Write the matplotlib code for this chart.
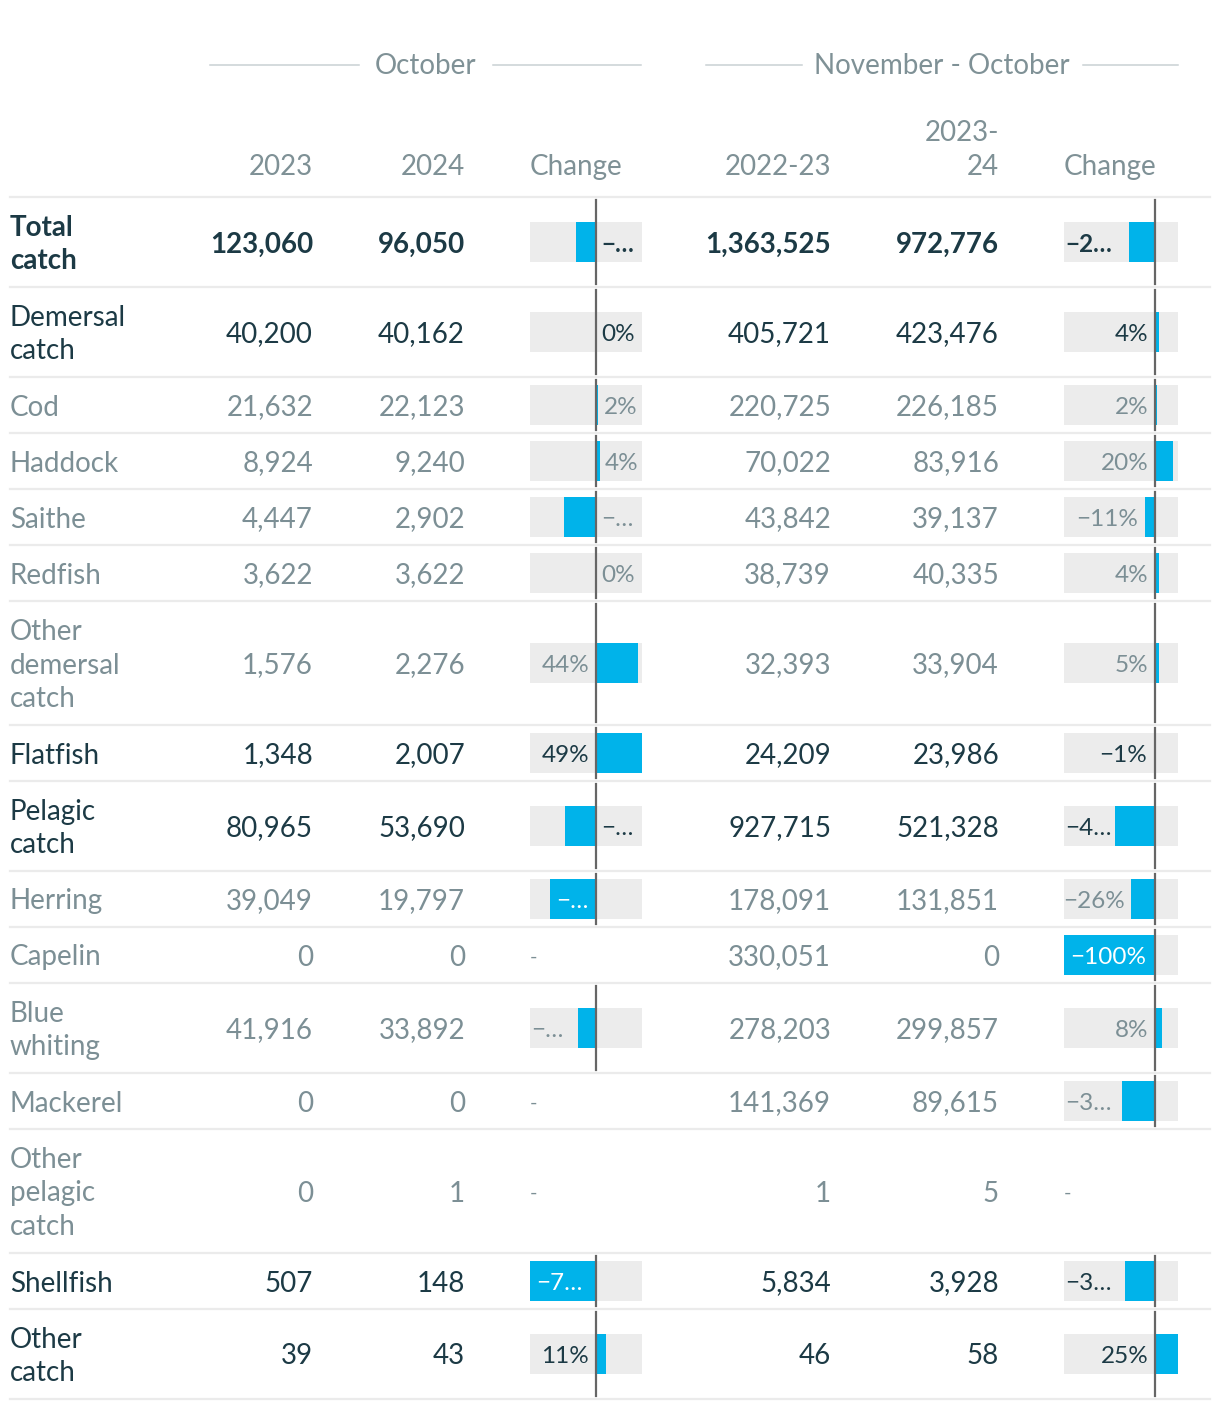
import matplotlib
matplotlib.use("Agg")
import matplotlib.pyplot as plt

# ---- data ----
rows = ["Total\ncatch", "Demersal\ncatch", "Cod", "Haddock", "Saithe", "Redfish",
        "Other\ndemersal\ncatch", "Flatfish", "Pelagic\ncatch", "Herring", "Capelin",
        "Blue\nwhiting", "Mackerel", "Other\npelagic\ncatch", "Shellfish", "Other\ncatch"]
row_kind = ["total", "main", "sub", "sub", "sub", "sub", "sub", "main", "main",
            "sub", "sub", "sub", "sub", "sub", "main", "main"]

oct_2023 = [123060, 40200, 21632, 8924, 4447, 3622, 1576, 1348, 80965, 39049, 0, 41916, 0, 0, 507, 39]
oct_2024 = [96050, 40162, 22123, 9240, 2902, 3622, 2276, 2007, 53690, 19797, 0, 33892, 0, 1, 148, 43]
oct_change = [-21.9, -0.1, 2.3, 3.5, -34.7, 0.0, 44.4, 48.9, -33.7, -49.3, None, -19.1, None, None, -70.8, 10.6]
oct_labels = ["−…", "0%", "2%", "4%", "−…", "0%", "44%", "49%", "−…", "−…", "-", "−…", "-", "-", "−7…", "11%"]

nov_2223 = [1363525, 405721, 220725, 70022, 43842, 38739, 32393, 24209, 927715, 178091, 330051, 278203, 141369, 1, 5834, 46]
nov_2324 = [972776, 423476, 226185, 83916, 39137, 40335, 33904, 23986, 521328, 131851, 0, 299857, 89615, 5, 3928, 58]
nov_change = [-28.7, 4.4, 2.5, 19.8, -10.7, 4.1, 4.7, -0.9, -43.8, -26.0, -100.0, 7.8, -36.6, None, -32.7, 25.0]
nov_labels = ["−2…", "4%", "2%", "20%", "−11%", "4%", "5%", "−1%", "−4…", "−26%", "−100%", "8%", "−3…", "-", "−3…", "25%"]

# label placement: r = right of zero/bar, l = left of bar, s = cell start, i = inside bar
oct_pos = ['r', 'r', 'r', 'r', 'r', 'r', 'l', 'l', 'r', 'i', 'n', 's', 'n', 'n', 'i', 'l']
nov_pos = ['s', 'l', 'l', 'l', 'l', 'l', 'l', 'l', 's', 'l', 'i', 'l', 's', 'n', 's', 'l']

# ---- style ----
DARK = '#1c3a45'
GREY = '#7c8f95'
HEAD = '#7f9196'
BAR = '#00b3ea'
CELL = '#ececec'
RULE = '#ebebeb'
FAM = ['Lato', 'DejaVu Sans']
FS = 20
FS_SMALL = 17.5
DY = 2.5   # nudge text down to sit like the reference

plt.rcParams['font.family'] = FAM

fig = plt.figure(figsize=(12.2, 14.1), dpi=100)
ax = fig.add_axes([0, 0, 1, 1])
ax.set_xlim(0, 1220)
ax.set_ylim(1410, 0)
ax.axis('off')

# group headers
for label, cx, l0, l1, r0, r1 in [("October", 426, 210, 359, 493, 641),
                                  ("November - October", 942, 706, 802, 1083, 1178)]:
    ax.text(cx, 64 + DY, label, ha='center', va='center', fontsize=FS, color=HEAD)
    ax.plot([l0, l1], [65, 65], color='#c9d1d3', lw=1.1)
    ax.plot([r0, r1], [65, 65], color='#c9d1d3', lw=1.1)

# column headers
hb = 175
ax.text(313, hb, "2023", ha='right', va='baseline', fontsize=FS, color=HEAD)
ax.text(465, hb, "2024", ha='right', va='baseline', fontsize=FS, color=HEAD)
ax.text(530, hb, "Change", ha='left', va='baseline', fontsize=FS, color=HEAD)
ax.text(831, hb, "2022-23", ha='right', va='baseline', fontsize=FS, color=HEAD)
ax.text(999, hb, "2023-\n24", ha='right', va='baseline', fontsize=FS, color=HEAD, linespacing=1.36)
ax.text(1064, hb, "Change", ha='left', va='baseline', fontsize=FS, color=HEAD)

top = 197
ax.plot([10, 1210], [top, top], color=RULE, lw=1.6)

cells = [(530, 642, oct_change, oct_labels, oct_pos),
         (1064, 1178, nov_change, nov_labels, nov_pos)]
scales = []
for x0, x1, ch, _, _ in cells:
    vals = [v for v in ch if v is not None]
    lo, hi = min(vals), max(vals)
    k = (x1 - x0) / (hi - lo)
    scales.append((k, x0 - lo * k))

y = top
for i, name in enumerate(rows):
    nl = name.count("\n") + 1
    h = 22 + 34 * nl
    cy = y + h / 2
    kind = row_kind[i]
    col = GREY if kind == 'sub' else DARK
    wt = 'bold' if kind == 'total' else 'normal'

    ax.text(10, cy + DY, name, ha='left', va='center', fontsize=FS, color=col,
            fontweight=wt, linespacing=1.36)
    for xr, v in zip([313, 465, 831, 999], [oct_2023[i], oct_2024[i], nov_2223[i], nov_2324[i]]):
        ax.text(xr, cy + DY, f"{v:,}", ha='right', va='center', fontsize=FS, color=col, fontweight=wt)

    for (x0, x1, ch, labs, pos), (k, zero) in zip(cells, scales):
        v = ch[i]
        if v is None:
            ax.text(x0, cy + DY, "-", ha='left', va='center', fontsize=FS_SMALL - 3, color=GREY)
            continue
        ax.barh(cy, x1 - x0, left=x0, height=40, color=CELL, zorder=1)
        ax.barh(cy, v * k, left=zero, height=40, color=BAR, zorder=2)
        ax.plot([zero, zero], [y + 3, y + h - 3], color='#666666', lw=1.6, zorder=3)
        bl = min(zero, zero + v * k)
        br = max(zero, zero + v * k)
        p = pos[i]
        tc = col
        if p == 'r':
            tx, ha = br + 5, 'left'
        elif p == 'l':
            tx, ha = bl - 7, 'right'
        elif p == 's':
            tx, ha = x0 + 1, 'left'
        else:
            tx, ha, tc = bl + 6, 'left', 'white'
        ax.text(tx, cy + DY, labs[i], ha=ha, va='center', fontsize=FS_SMALL, color=tc,
                fontweight=wt, zorder=4)

    y += h
    ax.plot([10, 1210], [y, y], color=RULE, lw=1.6, zorder=5)

fig.savefig('out.png', dpi=100)
